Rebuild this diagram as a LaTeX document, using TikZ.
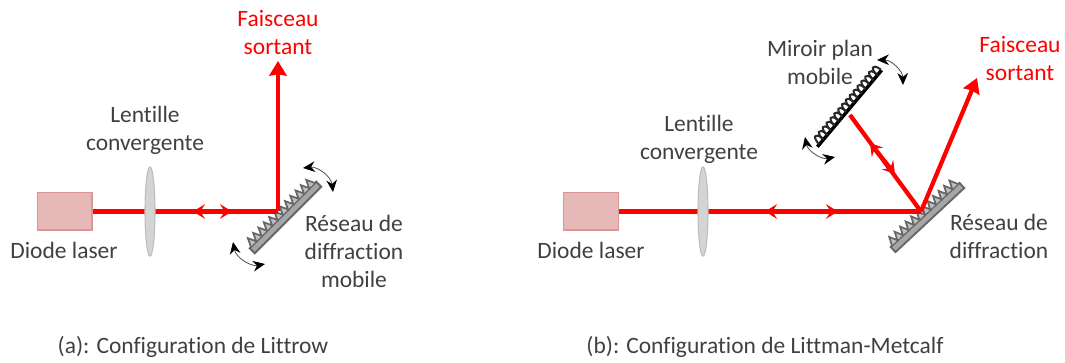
\documentclass[tikz,border=0pt]{standalone}
\usepackage{fontspec}
\usepackage{xcolor}
\usepackage{tikz}
\usetikzlibrary{arrows.meta}
\usetikzlibrary{shapes.geometric}
\setmainfont[Ligatures=NoCommon]{Carlito}
\definecolor{texte}{HTML}{404040}
\definecolor{caisson}{HTML}{E6B9B8}
\definecolor{bordcaisson}{HTML}{D99694}
\definecolor{verre}{HTML}{D4D4D4}
\definecolor{bordverre}{HTML}{BDBDBD}
\tikzset{
  legende/.style={inner sep=0pt, align=center, text=texte, font=\fontsize{17.6}{21}\selectfont},
  sortie/.style={legende, text=red},
  diode/.style={rectangle, draw=bordcaisson, fill=caisson, line width=1pt, minimum width=41pt, minimum height=28pt, inner sep=0pt},
  lentille/.style={ellipse, draw=bordverre, fill=verre, line width=0.8pt, minimum width=7.5pt, minimum height=67pt, inner sep=0pt},
  faisceau/.style={draw=red, line width=3.2pt},
  retour/.style={faisceau, {Stealth[length=9pt, width=11pt, inset=3.5pt]}-{Stealth[length=9pt, width=11pt, inset=3.5pt]}},
  sortant/.style={faisceau, -{Stealth[length=11pt, width=13pt, inset=1pt]}},
  pivot/.style={draw=black!70, line width=0.6pt, {Stealth[length=9pt, width=8pt, black]}-{Stealth[length=9pt, width=8pt, black]}},
  reseau/.pic={
    \draw[draw=black!60, fill=black!35, line width=1.4pt] (-47,-3.5) rectangle (47,3.5);
    \draw[draw=black!60, fill=black!25, line width=1.3pt] (-45,-4) foreach \i in {0,...,11} {-- ++(3.75,-8) -- ++(3.75,8)};
  },
  miroir/.pic={
    \draw[draw=black, line width=2.6pt] (-50,0) -- (50,0);
    \foreach \i in {-47,-41,...,43} {\draw[draw=black!85, line width=1.5pt] (\i,0) .. controls (\i+1,-9) and (\i+6,-13) .. (\i+7,-1);}
  }
}
\begin{document}
\begin{tikzpicture}[x=0.75pt, y=-0.75pt]
  \useasboundingbox (0,0) rectangle (1065,363);
  % configuration a
  \node[diode](diodeA) at (64.5,211.5){};
  \coordinate(impactA) at (278,211.5);
  \coordinate(finA) at (278,61);
  \coordinate(flecheGA) at (193,211.5);
  \coordinate(flecheDA) at (232,211.5);
  \coordinate(pivotA1) at (303,168);
  \coordinate(pivotA2) at (333,192);
  \coordinate(pivotA3) at (233,242);
  \coordinate(pivotA4) at (265,264);
  \pic[rotate=45] at (285.5,217.5) {reseau};
  \draw[faisceau] (diodeA.east) -- (impactA);
  \draw[sortant] (impactA) -- (finA);
  \draw[retour] (flecheGA) -- (flecheDA);
  \draw[pivot] (pivotA1) to[bend left=45] (pivotA2);
  \draw[pivot] (pivotA3) to[bend right=45] (pivotA4);
  \node[lentille](lentilleA) at (150,211.5){};
  \node[sortie](sortieA) at (278,33){Faisceau\\sortant};
  \node[legende](legLentilleA) at (145,130){Lentille\\convergente};
  \node[legende](legDiodeA) at (64,250){Diode laser};
  \node[legende](legReseauA) at (354,251){Réseau de\\diffraction\\mobile};
  \node[legende](titreA) at (193,347){(a): Configuration de Littrow};
  % configuration b
  \node[diode](diodeB) at (591,211.5){};
  \coordinate(impactB) at (921,211.5);
  \coordinate(impactM) at (850,115);
  \coordinate(finB) at (977,78);
  \coordinate(flecheGB) at (765,211.5);
  \coordinate(flecheDB) at (838,211.5);
  \coordinate(flecheHB) at (870,143);
  \coordinate(flecheBB) at (895,174);
  \coordinate(pivotB1) at (877,60);
  \coordinate(pivotB2) at (903,85);
  \coordinate(pivotB3) at (805,137);
  \coordinate(pivotB4) at (835,157);
  \pic[rotate=43] at (927.5,217.5) {reseau};
  \pic[rotate=50] at (849.5,108.5) {miroir};
  \draw[faisceau] (diodeB.east) -- (impactB);
  \draw[faisceau] (impactB) -- (impactM);
  \draw[sortant] (impactB) -- (finB);
  \draw[retour] (flecheGB) -- (flecheDB);
  \draw[retour] (flecheHB) -- (flecheBB);
  \draw[pivot] (pivotB1) to[bend left=45] (pivotB2);
  \draw[pivot] (pivotB3) to[bend right=45] (pivotB4);
  \node[lentille](lentilleB) at (703,211.5){};
  \node[sortie](sortieB) at (1020,59){Faisceau\\sortant};
  \node[legende](legLentilleB) at (699,139){Lentille\\convergente};
  \node[legende](legDiodeB) at (591,250){Diode laser};
  \node[legende](legReseauB) at (999,236){Réseau de\\diffraction};
  \node[legende](legMiroir) at (820,62){Miroir plan\\mobile};
  \node[legende](titreB) at (765,347){(b): Configuration de Littman-Metcalf};
\end{tikzpicture}
\end{document}
